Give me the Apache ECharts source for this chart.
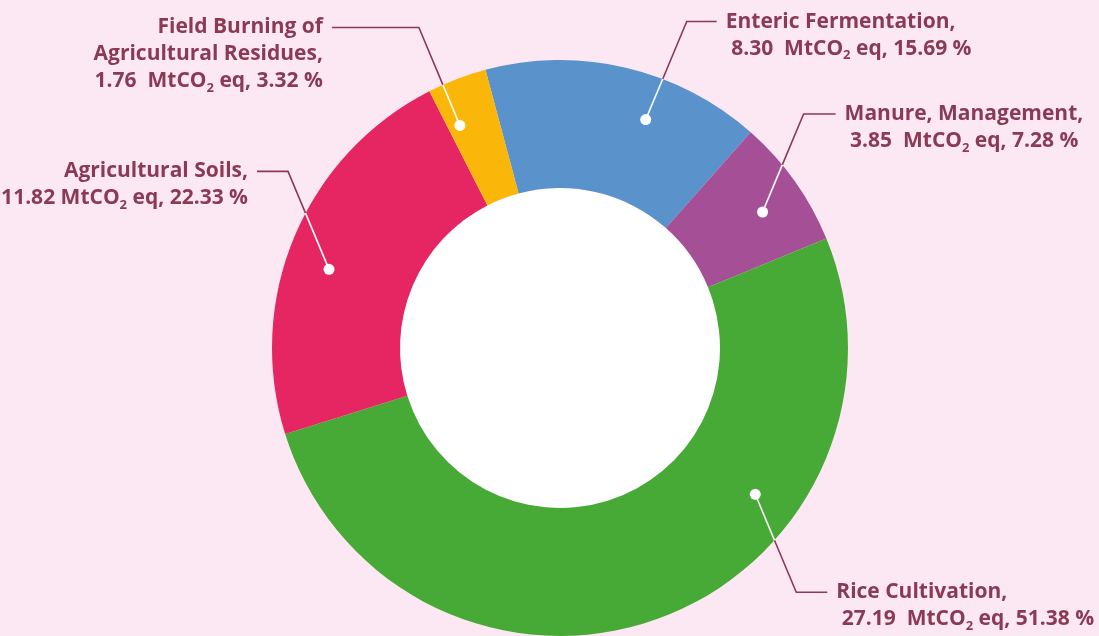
<!DOCTYPE html>
<html>
<head>
<meta charset="utf-8">
<style>
  html, body { margin: 0; padding: 0; background: #fce8f3; }
  #chart { width: 1099px; height: 636px; }
</style>
<script src="https://cdn.jsdelivr.net/npm/echarts@6/dist/echarts.min.js"></script>
</head>
<body>
<div id="chart"></div>
<script>
const names = ['Enteric Fermentation', 'Manure, Management', 'Rice Cultivation', 'Agricultural Soils', 'Field Burning of\nAgricultural Residues'];
const values = [8.30, 3.85, 27.19, 11.82, 1.76];     // MtCO2 eq
const percents = [15.69, 7.28, 51.38, 22.33, 3.32];  // as printed on the labels
const colors = ['#5a92cb', '#a54f96', '#48aa36', '#e62663', '#fab709'];

// call-out layout: where the white pin sits inside each slice (fraction of the slice) and tail length
const pinFrac = [0.63, 0.56, 0.32, 0.45, 0.23];
const tailLen = [30, 32, 31, 31, 87];
const valueGap = ['  ', '  ', '  ', ' ', '  '];

const center = [560, 348];
const rInner = 160, rOuter = 288, rPin = 244;
const startAngle = 105;
const textColor = '#8b3a56';
const font = 'Open Sans';

const total = values.reduce((a, b) => a + b, 0);
let acc = 0;
const callouts = values.map((v, i) => {
  const a = (startAngle - (acc + v * pinFrac[i]) / total * 360) * Math.PI / 180;
  acc += v;
  const dot = [center[0] + rPin * Math.cos(a), center[1] - rPin * Math.sin(a)];
  const sx = dot[0] > center[0] ? 1 : -1;
  const sy = dot[1] > center[1] ? 1 : -1;
  const elbow = [dot[0] + sx * 41, dot[1] + sy * 98];
  const end = [elbow[0] + sx * tailLen[i], elbow[1]];
  // where the first leg leaves the ring
  const dx = elbow[0] - dot[0], dy = elbow[1] - dot[1];
  const fx = dot[0] - center[0], fy = dot[1] - center[1];
  const A = dx * dx + dy * dy, B = 2 * (fx * dx + fy * dy), C = fx * fx + fy * fy - rOuter * rOuter;
  const t = (-B + Math.sqrt(B * B - 4 * A * C)) / (2 * A);
  const edge = [dot[0] + dx * t, dot[1] + dy * t];
  return { dot, elbow, end, edge, sx };
});

const pieData = names.map((n, i) => ({ name: n, value: values[i], itemStyle: { color: colors[i] } }));

const chart = echarts.init(document.getElementById('chart'));
chart.setOption({
  backgroundColor: '#fce8f3',
  animation: false,
  series: [
    {
      // white hole of the donut
      type: 'pie',
      center: center,
      radius: [0, rInner],
      silent: true,
      label: { show: false },
      labelLine: { show: false },
      data: [{ value: total, itemStyle: { color: '#ffffff' } }]
    },
    {
      type: 'pie',
      center: center,
      radius: [rInner, rOuter],
      startAngle: startAngle,
      silent: true,
      data: pieData,
      label: {
        show: true,
        position: 'outside',
        overflow: 'none',
        color: textColor,
        fontFamily: font,
        fontWeight: 'bold',
        fontSize: 21,
        lineHeight: 27,
        formatter: p => {
          const i = p.dataIndex;
          const lead = callouts[i].sx > 0 ? ' ' : '';
          return names[i] + ',\n' + lead + values[i].toFixed(2) + valueGap[i] +
            'MtCO{s|2} eq, ' + percents[i].toFixed(2) + ' %';
        },
        rich: {
          s: { fontSize: 13, fontWeight: 'bold', fontFamily: font, color: textColor, verticalAlign: 'bottom', lineHeight: 19 }
        }
      },
      labelLine: { show: true, lineStyle: { color: textColor, width: 1.6 } },
      labelLayout: p => {
        const c = callouts[p.dataIndex];
        return {
          x: c.end[0] + c.sx * 9,
          y: c.end[1] - 13.5,
          align: c.sx > 0 ? 'left' : 'right',
          verticalAlign: 'top',
          labelLinePoints: [c.edge, c.elbow, c.end]
        };
      }
    },
    {
      // transparent helper pie on top: white pins and the white leg inside the ring
      type: 'pie',
      z: 5,
      center: center,
      radius: [0, rPin],
      startAngle: startAngle,
      silent: true,
      data: pieData.map(d => ({ name: d.name, value: d.value })),
      itemStyle: { color: 'rgba(0,0,0,0)' },
      label: {
        show: true,
        formatter: ' ',
        width: 11,
        height: 11,
        padding: 0,
        backgroundColor: '#ffffff',
        borderRadius: 5.5
      },
      labelLine: { show: true, showAbove: true, lineStyle: { color: '#ffffff', width: 1.6 } },
      labelLayout: p => {
        const c = callouts[p.dataIndex];
        return {
          x: c.dot[0],
          y: c.dot[1],
          align: 'center',
          verticalAlign: 'middle',
          labelLinePoints: [c.dot, c.edge, c.edge]
        };
      }
    }
  ]
});
</script>
</body>
</html>
